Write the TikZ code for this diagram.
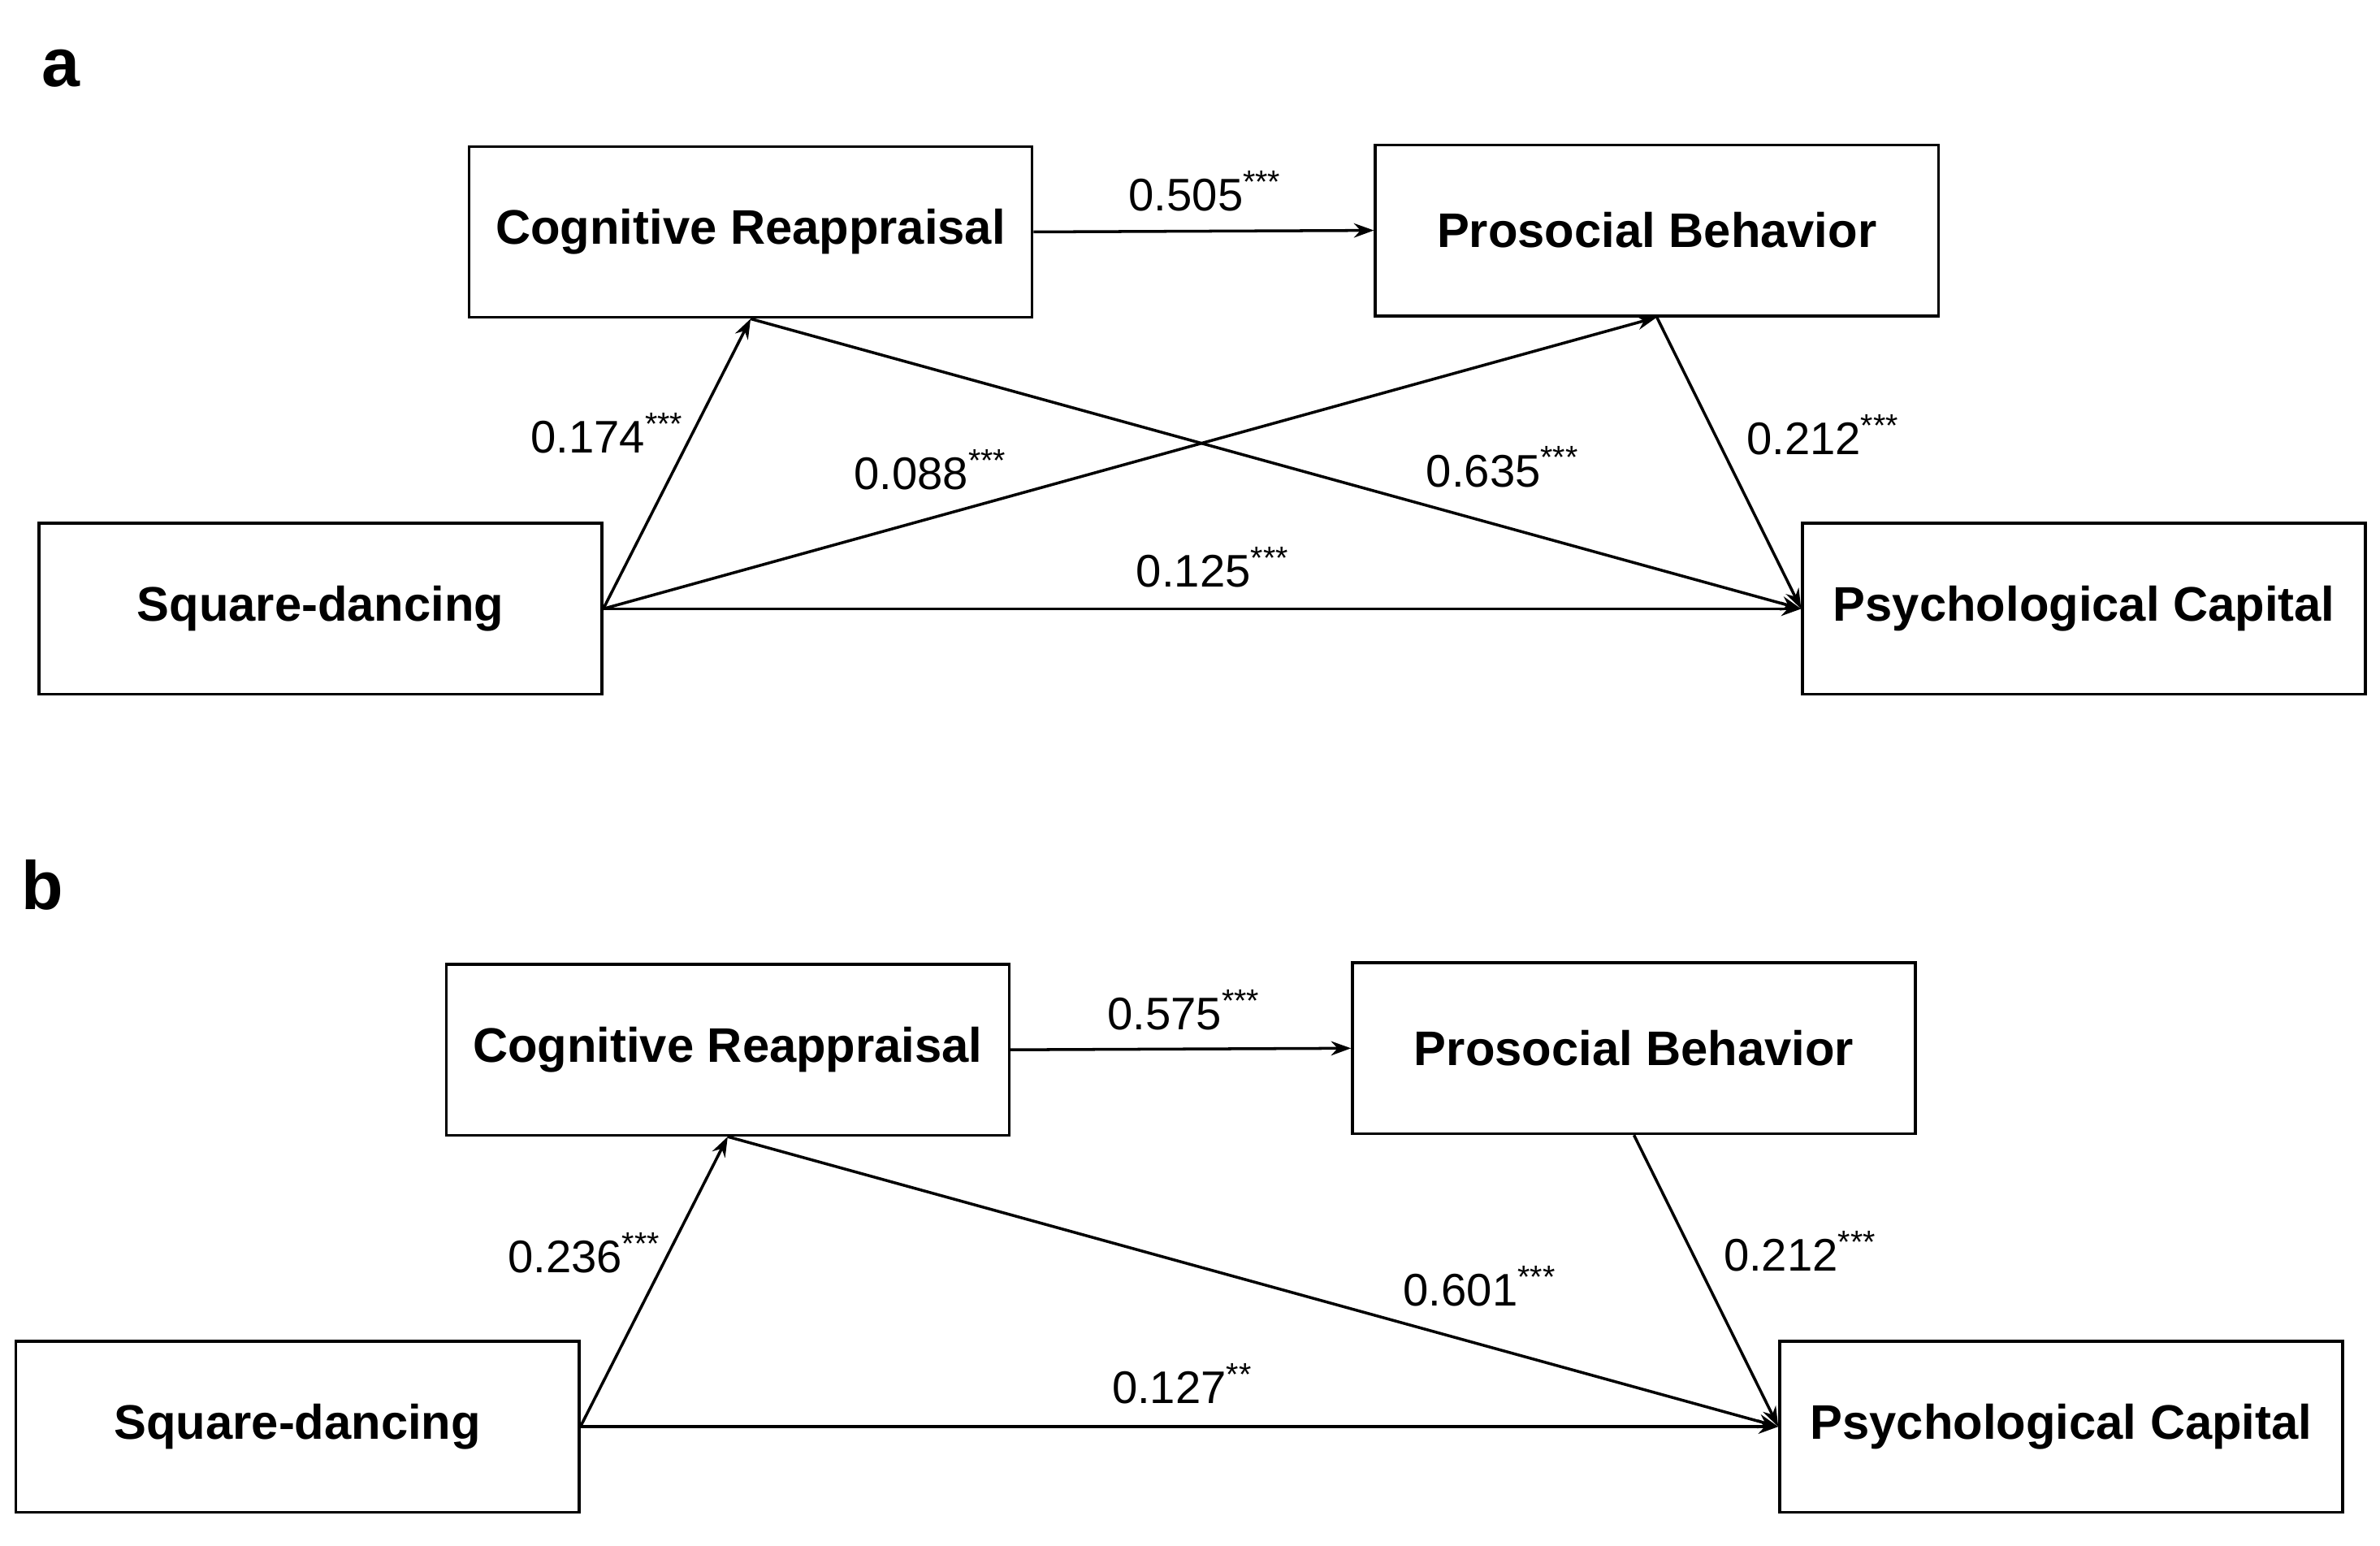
\documentclass[tikz,border=0pt]{standalone}
\usepackage{fontspec}
\setmainfont{Liberation Sans}
\usetikzlibrary{arrows.meta}
\begin{document}
\begin{tikzpicture}[x=0.01878cm,y=-0.01878cm,
 box/.style={draw,line width=1pt,minimum width=369*0.01878cm,minimum height=112*0.01878cm,font=\fontsize{17}{20}\selectfont\bfseries,inner sep=0},
 arr/.style={line width=1pt,-{Stealth[length=7pt,width=5pt]}},
 lab/.style={font=\fontsize{16}{18}\selectfont,inner sep=0}]
\useasboundingbox (0,0) rectangle (1560,1013);
\node[font=\fontsize{24}{28}\selectfont\bfseries] (la) at (40,45) {a};
\node[font=\fontsize{24}{28}\selectfont\bfseries] (lb) at (28,580) {b};
% panel a
\node[box] (cra) at (492,152) {Cognitive Reappraisal};
\node[box] (pba) at (1086,151) {Prosocial Behavior};
\node[box] (sda) at (210,399) {Square-dancing};
\node[box] (pca) at (1366,399) {Psychological Capital};
\draw[arr] (cra.east) -- (pba.west);
\draw[arr] (sda.east) -- (cra.south);
\draw[arr] (sda.east) -- (pba.south);
\draw[arr] (sda.east) -- (pca.west);
\draw[arr] (cra.south) -- (pca.west);
\draw[arr] (pba.south) -- (pca.west);
\node[lab] (a1) at (790,125) {0.505\textsuperscript{***}};
\node[lab] (a2) at (398,284) {0.174\textsuperscript{***}};
\node[lab] (a3) at (610,308) {0.088\textsuperscript{***}};
\node[lab] (a4) at (985,306) {0.635\textsuperscript{***}};
\node[lab] (a5) at (1195,285) {0.212\textsuperscript{***}};
\node[lab] (a6) at (795,372) {0.125\textsuperscript{***}};
% panel b
\node[box] (crb) at (477,688) {Cognitive Reappraisal};
\node[box] (pbb) at (1071,687) {Prosocial Behavior};
\node[box] (sdb) at (195,935) {Square-dancing};
\node[box] (pcb) at (1351,935) {Psychological Capital};
\draw[arr] (crb.east) -- (pbb.west);
\draw[arr] (sdb.east) -- (crb.south);
\draw[arr] (sdb.east) -- (pcb.west);
\draw[arr] (crb.south) -- (pcb.west);
\draw[arr] (pbb.south) -- (pcb.west);
\node[lab] (b1) at (776,662) {0.575\textsuperscript{***}};
\node[lab] (b2) at (383,821) {0.236\textsuperscript{***}};
\node[lab] (b3) at (970,843) {0.601\textsuperscript{***}};
\node[lab] (b4) at (1180,820) {0.212\textsuperscript{***}};
\node[lab] (b5) at (775,907) {0.127\textsuperscript{**}};
\end{tikzpicture}
\end{document}
